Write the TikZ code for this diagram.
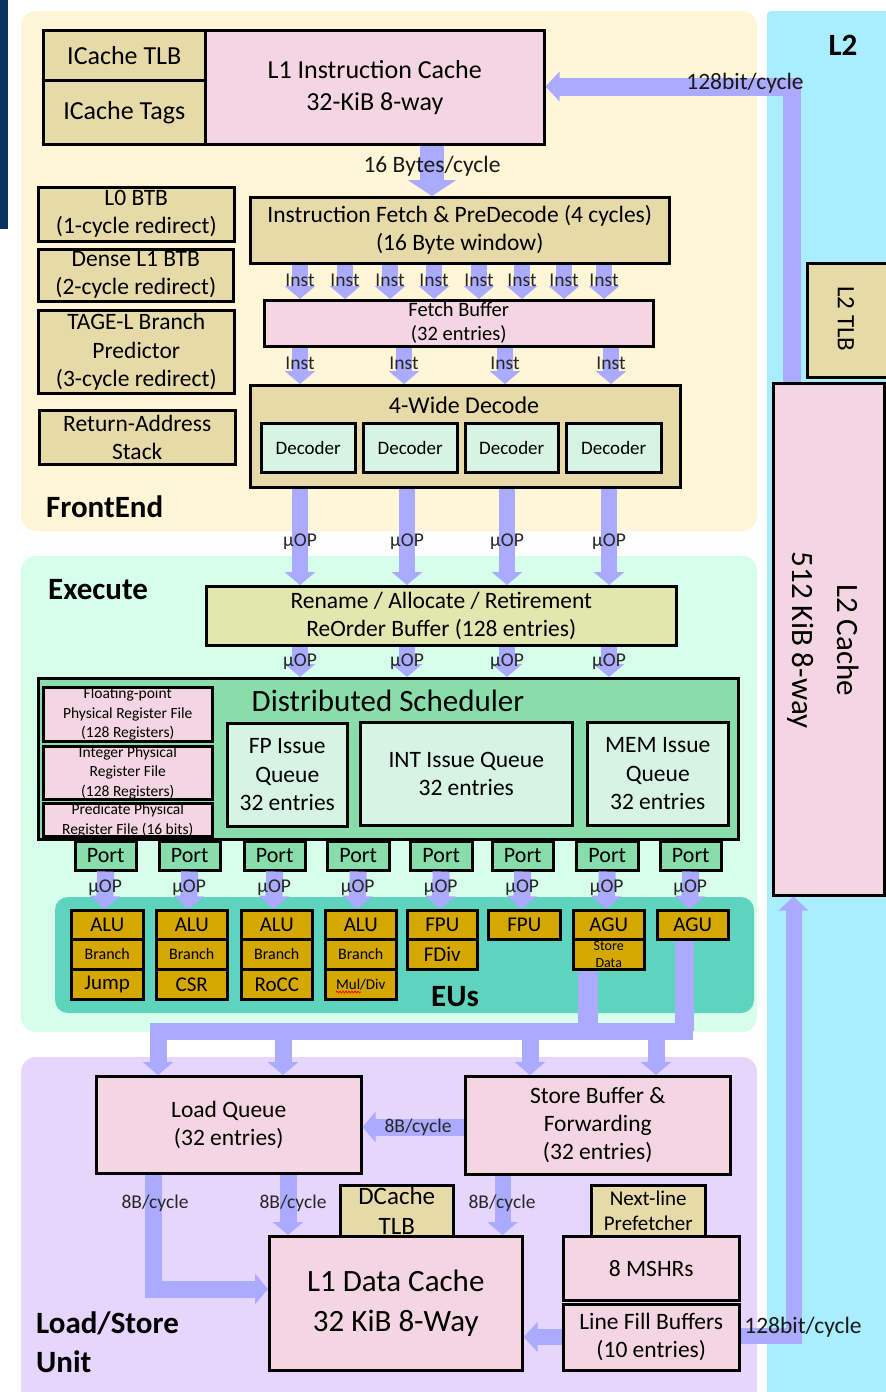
\documentclass[tikz,border=0pt]{standalone}
\usepackage{fontspec}
\setmainfont{Carlito}
\usetikzlibrary{arrows.meta,decorations.pathmorphing}
\definecolor{cYel}{HTML}{FFF5D7}
\definecolor{cCyan}{HTML}{AAEEFE}
\definecolor{cTan}{HTML}{E6DAA9}
\definecolor{cPink}{HTML}{F4D6E2}
\definecolor{cMint}{HTML}{D6F3E4}
\definecolor{cExe}{HTML}{D7FEEA}
\definecolor{cSch}{HTML}{88DDAA}
\definecolor{cRen}{HTML}{E1E7AF}
\definecolor{cEU}{HTML}{5ED3BD}
\definecolor{cGold}{HTML}{D4A800}
\definecolor{cLsu}{HTML}{E6D6FE}
\definecolor{cArr}{HTML}{AAAAFF}
\definecolor{cBar}{HTML}{0A3361}
\newcommand{\fsz}[2]{\fontsize{#1}{#2}\selectfont}
\newcommand{\mybox}[7]{\node[box,#6,anchor=north west,minimum width={#4pt-#2pt},minimum height={#5pt-#3pt}] (#1) at (#2,#3) {#7};}
\begin{document}
\begin{tikzpicture}[x=1pt,y=-1pt,
  box/.style={draw=black,line width=2.5pt,inner sep=0pt,align=center,text=black},
  fat/.style={draw=cArr,line width=#1},
  tipA/.style={-{Triangle[width=30pt,length=13pt]}},
  tipB/.style={-{Triangle[width=29pt,length=14pt]}},
  tipC/.style={-{Triangle[width=48pt,length=16pt]}},
  lab/.style={font=\fsz{19.5}{19.5},inner sep=0pt,text=black!85},
  blab/.style={font=\fsz{23.5}{23.5},inner sep=0pt,text=black!90},
  ttl/.style={font=\bfseries\fsz{31}{31},anchor=west,inner sep=0pt,text=black}]
\useasboundingbox (0,0) rectangle (886,1392);
\clip (0,0) rectangle (886,1392);
% panels
\fill[cBar] (0,0) rectangle (8,229);
\fill[cYel,rounded corners=15pt] (21,11) rectangle (757,531);
\fill[cCyan,rounded corners=4pt] (767,11) rectangle (900,1410);
\fill[cExe,rounded corners=15pt] (21,556) rectangle (757,1032);
\fill[cLsu,rounded corners=15pt] (21,1057) rectangle (757,1420);
\fill[cEU,rounded corners=13pt] (55,897) rectangle (754,1013);
\node[ttl] (tFE) at (46,507) {FrontEnd};
\node[ttl] (tEX) at (48,590) {Execute};
\node[ttl] (tLS1) at (36,1323) {Load/Store};
\node[ttl] (tLS2) at (36,1362) {Unit};
\node[ttl,anchor=center] (tL2) at (843,45) {L2};
\node[ttl,anchor=center] (tEU) at (455,997) {EUs};
% front end
\mybox{itlb}{42}{29}{204}{79}{fill=cTan,font=\fsz{26}{32}}{ICache TLB}
\mybox{itag}{42}{79}{204}{143}{fill=cTan,font=\fsz{26}{32}}{ICache Tags}
\mybox{l1i}{204}{29}{543}{143}{fill=cPink,font=\fsz{26}{32}}{L1 Instruction Cache\\32-KiB 8-way}
\mybox{btb0}{37}{186}{233}{240}{fill=cTan,font=\fsz{23.5}{28}}{L0 BTB\\(1-cycle redirect)}
\mybox{btb1}{37}{248}{232}{300}{fill=cTan,font=\fsz{23.5}{28}}{Dense L1 BTB\\(2-cycle redirect)}
\mybox{tage}{37}{309}{233}{392}{fill=cTan,font=\fsz{23.5}{28.5}}{TAGE-L Branch\\Predictor\\(3-cycle redirect)}
\mybox{ras}{38}{409}{234}{463}{fill=cTan,font=\fsz{23.5}{28}}{Return-Address\\Stack}
\mybox{fetch}{249}{196}{668}{262}{fill=cTan,font=\fsz{23.5}{28}}{Instruction Fetch \& PreDecode (4 cycles)\\(16 Byte window)}
\mybox{fbuf}{263}{299}{652}{345}{fill=cPink,font=\fsz{20.5}{24}}{Fetch Buffer\\(32 entries)}
\mybox{dec}{249}{384}{679}{486}{fill=cTan}{}
\node[font=\fsz{24}{24},inner sep=0pt] (dect) at (464,405) {4-Wide Decode};
\mybox{d1}{260}{422}{354}{471}{fill=cMint,font=\fsz{19}{19}}{Decoder}
\mybox{d2}{362}{422}{456}{471}{fill=cMint,font=\fsz{19}{19}}{Decoder}
\mybox{d3}{464}{422}{557}{471}{fill=cMint,font=\fsz{19}{19}}{Decoder}
\mybox{d4}{565}{422}{660}{471}{fill=cMint,font=\fsz{19}{19}}{Decoder}
% execute
\mybox{ren}{205}{585}{675}{644}{fill=cRen,font=\fsz{23.5}{28}}{Rename / Allocate / Retirement\\ReOrder Buffer (128 entries)}
\mybox{sch}{37}{677}{737}{838}{fill=cSch}{}
\node[font=\fsz{31}{31},inner sep=0pt] (scht) at (388,701) {Distributed Scheduler};
\mybox{fprf}{42}{686}{211}{740}{fill=cPink,font=\fsz{15.5}{19.5}}{Floating-point\\Physical Register File\\(128 Registers)}
\mybox{irf}{42}{745}{211}{798}{fill=cPink,font=\fsz{15.5}{19.5}}{Integer Physical\\Register File\\(128 Registers)}
\mybox{prf}{42}{802}{211}{834}{fill=cPink,font=\fsz{15.5}{20}}{Predicate Physical\\Register File (16 bits)}
\mybox{fpq}{226}{722}{346}{825}{fill=cMint,font=\fsz{23.5}{28.5}}{FP Issue\\Queue\\32 entries}
\mybox{intq}{359}{721}{571}{824}{fill=cMint,font=\fsz{23.5}{28.5}}{INT Issue Queue\\32 entries}
\mybox{memq}{586}{721}{727}{824}{fill=cMint,font=\fsz{23.5}{28.5}}{MEM Issue\\Queue\\32 entries}
\foreach \xa/\xb/\nn in {74/135/p1,158/219/p2,243/304/p3,326/388/p4,409/471/p5,491/552/p6,575/637/p7,659/720/p8}
  {\mybox{\nn}{\xa}{840}{\xb}{869}{fill=cSch,font=\fsz{22}{22}}{Port}}
% EUs
\foreach \xa/\xb/\k/\lastt/\lf in {70/142/1/Jump/21,155/226/2/CSR/21,240/311/3/RoCC/21,324/395/4/Mul\slash Div/15}{
  \mybox{alu\k}{\xa}{909}{\xb}{938}{fill=cGold,font=\fsz{21}{21}}{ALU}
  \mybox{br\k}{\xa}{938}{\xb}{968}{fill=cGold,font=\fsz{16}{16}}{Branch}
  \mybox{lo\k}{\xa}{968}{\xb}{998}{fill=cGold,font=\fsz{\lf}{\lf}}{\lastt}
}
\mybox{fpu1}{406}{909}{476}{938}{fill=cGold,font=\fsz{21}{21}}{FPU}
\mybox{fdiv}{406}{938}{476}{968}{fill=cGold,font=\fsz{21}{21}}{FDiv}
\mybox{fpu2}{487}{909}{559}{938}{fill=cGold,font=\fsz{21}{21}}{FPU}
\mybox{agu1}{572}{909}{643}{938}{fill=cGold,font=\fsz{21}{21}}{AGU}
\mybox{sd}{572}{938}{643}{968}{fill=cGold,font=\fsz{14}{17}}{Store\\Data}
\mybox{agu2}{656}{909}{727}{938}{fill=cGold,font=\fsz{21}{21}}{AGU}
\draw[red,line width=0.8pt,decorate,decoration={snake,amplitude=0.9pt,segment length=3pt}] (336,992) -- (361,992);
% LSU
\mybox{lq}{95}{1075}{360}{1172}{fill=cPink,font=\fsz{23.5}{28}}{Load Queue\\(32 entries)}
\mybox{sb}{464}{1075}{729}{1173}{fill=cPink,font=\fsz{23.5}{28}}{Store Buffer \&\\Forwarding\\(32 entries)}
\mybox{dtlb}{339}{1184}{452}{1235}{fill=cTan,font=\fsz{25}{30}}{DCache\\TLB}
\mybox{nlp}{590}{1184}{704}{1235}{fill=cTan,font=\fsz{21}{25}}{Next-line\\Prefetcher}
\mybox{l1d}{268}{1235}{521}{1369}{fill=cPink,font=\fsz{31}{40}}{L1 Data Cache\\32 KiB 8-Way}
\mybox{mshr}{562}{1235}{738}{1299}{fill=cPink,font=\fsz{23.5}{28}}{8 MSHRs}
\mybox{lfb}{562}{1303}{738}{1369}{fill=cPink,font=\fsz{23.5}{28}}{Line Fill Buffers\\(10 entries)}
% L2
\mybox{l2tlb}{806}{262}{892}{376}{fill=cTan}{}
\node[rotate=-90,font=\fsz{25}{25},inner sep=0pt] (l2tlbt) at (846,319) {L2 TLB};
\mybox{l2c}{772}{382}{883}{894}{fill=cPink}{}
\node[rotate=-90,align=center,font=\fsz{31}{45},inner sep=0pt] (l2ct) at (823,640) {L2 Cache\\512 KiB 8-way};
% arrows front end
\draw[fat=18pt,tipB] (792,0 |- l2c.north) |- (l1i.east |- 0,86.5);
\node[blab] (lb128a) at (745,83) {128bit/cycle};
\draw[fat=24pt,tipC] (432,0 |- l1i.south) -- (432,0 |- fetch.north);
\node[blab] (lb16) at (432,166) {16 Bytes/cycle};
\foreach \x in {300,345,390,434,479,522,564,604}
  \draw[fat=16pt,tipA] (\x,0 |- fetch.south) -- node[lab,yshift=1pt]{Inst} (\x,0 |- fbuf.north);
\foreach \x in {300,404,505,611}
  \draw[fat=16pt,tipA] (\x,0 |- fbuf.south) -- node[lab,yshift=2pt]{Inst} (\x,0 |- dec.north);
\foreach \x in {300,407,507,609}
  \draw[fat=16pt,tipA] (\x,0 |- dec.south) -- node[lab,yshift=-4.5pt]{µOP} (\x,0 |- ren.north);
\foreach \x in {300,407,507,609}
  \draw[fat=16pt,tipA] (\x,0 |- ren.south) -- node[lab]{µOP} (\x,0 |- sch.north);
% ports to EUs
\foreach \x/\pp in {104.5/p1,188.5/p2,273.5/p3,357/p4,440/p5,521.5/p6,606/p7,689.5/p8}
  \draw[fat=17pt,tipA] (\pp.south) -- node[lab,yshift=3pt]{µOP} (\x,0 |- alu1.north);
% bus
\coordinate (busL) at (158,1031);
\coordinate (busR) at (684.5,1031);
\coordinate (busS) at (588,1031);
\draw[fat=20pt] (sd.south -| busS) -- (busS);
\draw[fat=19pt] (agu2.south -| busR) -- (busR);
\draw[fat=17pt,line cap=rect] (busL) -- (busR);
\foreach \x in {158,283}
  \draw[fat=17pt,tipA] (\x,1031) -- (\x,0 |- lq.north);
\foreach \x in {530,656}
  \draw[fat=17pt,tipA] (\x,1031) -- (\x,0 |- sb.north);
% LSU arrows
\draw[fat=17pt,tipA] (sb.west |- 0,1127) -- (lq.east |- 0,1127);
\node[lab] (lb8a) at (418,1127) {8B/cycle};
\draw[fat=17pt,tipA] (153,0 |- lq.south) |- (l1d.west |- 0,1289);
\node[lab] (lb8b) at (155,1203) {8B/cycle};
\draw[fat=17pt,tipA] (288,0 |- lq.south) -- (288,0 |- l1d.north);
\node[lab] (lb8c) at (293,1203) {8B/cycle};
\draw[fat=16pt,tipA] (502.5,0 |- sb.south) -- (502.5,0 |- l1d.north);
\node[lab] (lb8d) at (502,1203) {8B/cycle};
\draw[fat=16pt,tipB] (lfb.west |- 0,1337) -- (l1d.east |- 0,1337);
\draw[fat=16pt,tipB] (lfb.east |- 0,1336) -| (793.5,0 |- l2c.south);
\node[blab] (lb128b) at (803,1327) {128bit/cycle};
\end{tikzpicture}
\end{document}
